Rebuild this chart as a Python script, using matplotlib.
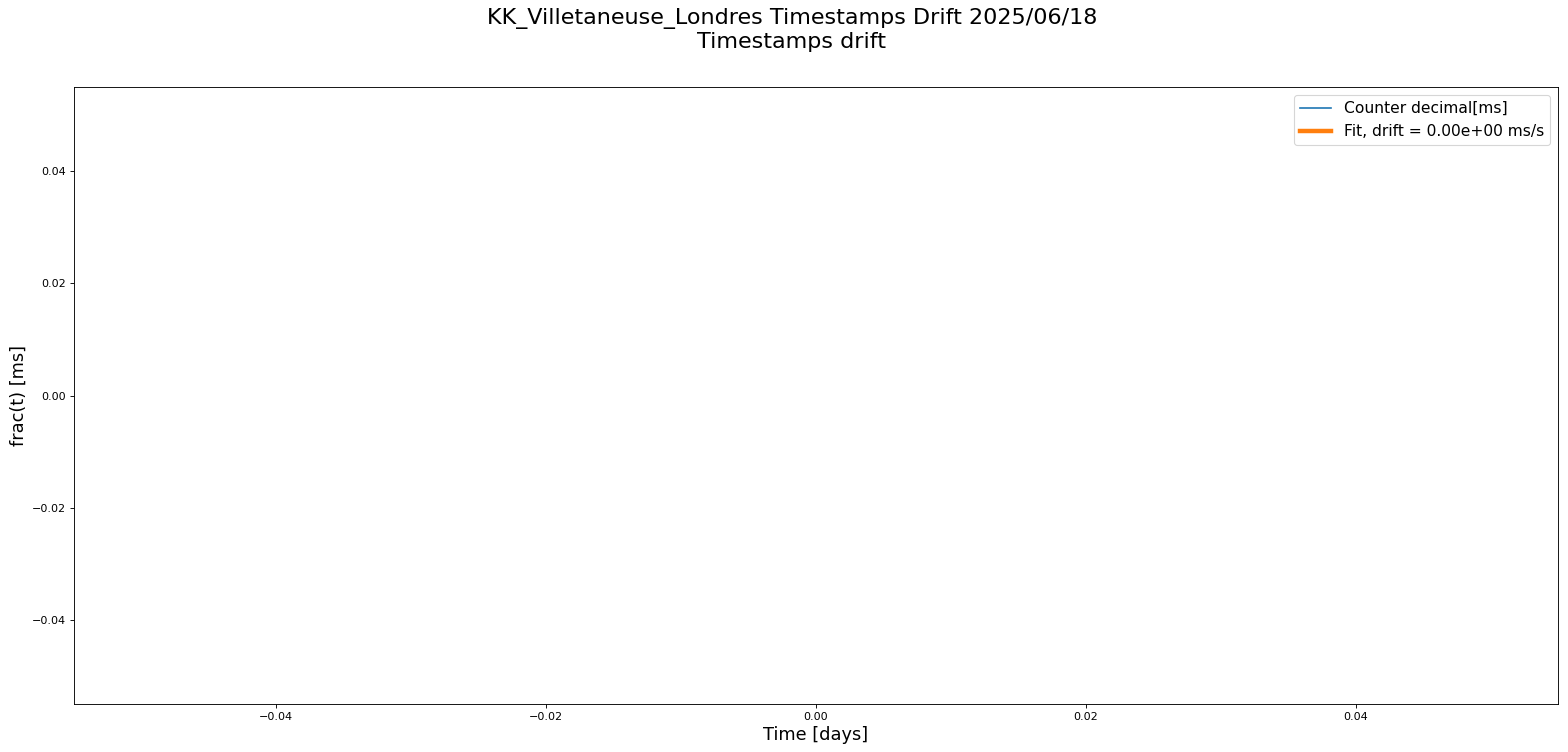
import matplotlib
matplotlib.use("Agg")
import matplotlib.pyplot as plt

station = "KK_Villetaneuse_Londres"
date = "2025/06/18"

# only one sample survives, so both curves collapse to a single point
time_days = [0.0]
frac_ms = [0.0]
fit_ms = [0.0]
drift = 0.0

fig, ax = plt.subplots(figsize=(19.6, 9.4), dpi=80)
ax.plot(time_days, frac_ms, '-', label="Counter decimal[ms]")
ax.plot(time_days, fit_ms, '-', linewidth=4, label="Fit, drift = %.2e ms/s" % drift)

ax.set_xlabel("Time [days]", fontsize=16)
ax.set_ylabel("frac(t) [ms]", fontsize=16)
fig.suptitle(station + " Timestamps Drift " + date + "\nTimestamps drift",
             fontsize=20, x=0.505, y=0.99)
ax.legend(fontsize=14)

plt.subplots_adjust(left=0.047, right=0.9936, top=0.884, bottom=0.064)
plt.savefig("out.png")
plt.close()
